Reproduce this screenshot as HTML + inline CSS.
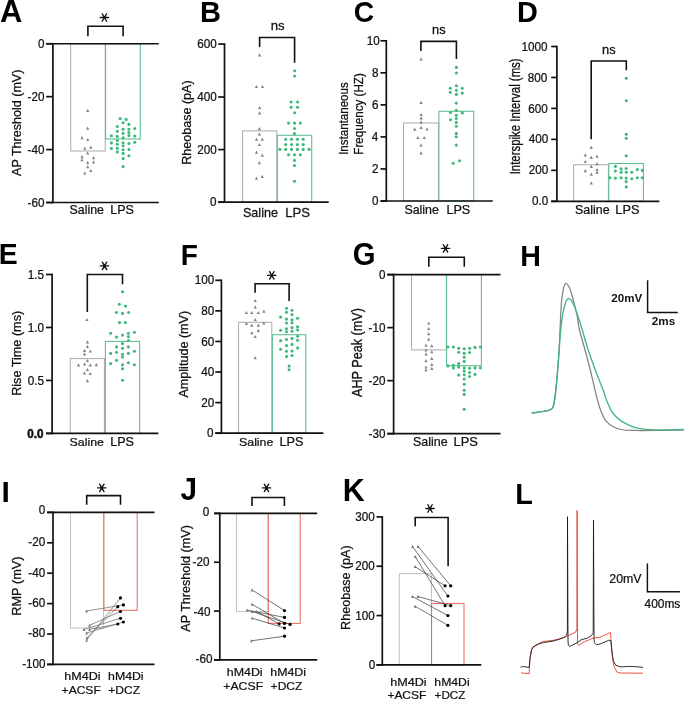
<!DOCTYPE html>
<html><head><meta charset="utf-8"><style>
html,body{margin:0;padding:0;background:#fff;}
body{width:685px;height:702px;overflow:hidden;font-family:"Liberation Sans", sans-serif;}
svg{display:block;}
.w{will-change:transform;}
</style></head><body><div class="w">
<svg width="685" height="702" viewBox="0 0 685 702" font-family='"Liberation Sans", sans-serif'>
<rect width="685" height="702" fill="#fff"/>
<text transform="matrix(0.30909 0 0 0.30735 -0.027 22.407)" font-size="100" font-weight="bold" fill="#000">A</text>
<text transform="matrix(0.29016 0 0 0.29855 199.969 21.900)" font-size="100" font-weight="bold" fill="#000">B</text>
<text transform="matrix(0.28308 0 0 0.30423 353.868 22.196)" font-size="100" font-weight="bold" fill="#000">C</text>
<text transform="matrix(0.28852 0 0 0.30000 517.080 21.900)" font-size="100" font-weight="bold" fill="#000">D</text>
<text transform="matrix(0.28393 0 0 0.30145 -1.288 263.900)" font-size="100" font-weight="bold" fill="#000">E</text>
<text transform="matrix(0.28000 0 0 0.30145 180.740 264.800)" font-size="100" font-weight="bold" fill="#000">F</text>
<text transform="matrix(0.29265 0 0 0.31549 352.829 265.385)" font-size="100" font-weight="bold" fill="#000">G</text>
<text transform="matrix(0.28621 0 0 0.29710 520.297 265.800)" font-size="100" font-weight="bold" fill="#000">H</text>
<text transform="matrix(0.30000 0 0 0.29420 1.600 502.300)" font-size="100" font-weight="bold" fill="#000">I</text>
<text transform="matrix(0.29787 0 0 0.30429 180.404 499.896)" font-size="100" font-weight="bold" fill="#000">J</text>
<text transform="matrix(0.30469 0 0 0.32174 342.667 501.100)" font-size="100" font-weight="bold" fill="#000">K</text>
<text transform="matrix(0.28824 0 0 0.29855 515.282 503.500)" font-size="100" font-weight="bold" fill="#000">L</text>
<rect x="70.7" y="43.75" width="34.5" height="107.25" fill="none" stroke="#ababab" stroke-width="1.0"/>
<rect x="105.6" y="43.75" width="34.7" height="95.25" fill="none" stroke="#5fc090" stroke-width="1.1"/>
<line x1="52.9" y1="42.95" x2="52.9" y2="203.31" stroke="#111" stroke-width="1.7" stroke-linecap="butt"/>
<line x1="46.2" y1="43.75" x2="52.9" y2="43.75" stroke="#111" stroke-width="1.7" stroke-linecap="butt"/>
<text transform="matrix(0.11700 0 0 0.11857 37.916 47.850)" font-size="100" font-weight="normal" fill="#111" stroke="#111" stroke-width="2">0</text>
<line x1="46.2" y1="96.67" x2="52.9" y2="96.67" stroke="#111" stroke-width="1.7" stroke-linecap="butt"/>
<text transform="matrix(0.11700 0 0 0.11857 27.503 100.770)" font-size="100" font-weight="normal" fill="#111" stroke="#111" stroke-width="2">-20</text>
<line x1="46.2" y1="149.59" x2="52.9" y2="149.59" stroke="#111" stroke-width="1.7" stroke-linecap="butt"/>
<text transform="matrix(0.11700 0 0 0.11857 27.503 153.690)" font-size="100" font-weight="normal" fill="#111" stroke="#111" stroke-width="2">-40</text>
<line x1="46.2" y1="202.51" x2="52.9" y2="202.51" stroke="#111" stroke-width="1.7" stroke-linecap="butt"/>
<text transform="matrix(0.11700 0 0 0.11857 27.503 206.610)" font-size="100" font-weight="normal" fill="#111" stroke="#111" stroke-width="2">-60</text>
<line x1="46.2" y1="43.75" x2="158.8" y2="43.75" stroke="#111" stroke-width="1.7" stroke-linecap="butt"/>
<line x1="46.2" y1="202.51" x2="158.8" y2="202.51" stroke="#111" stroke-width="1.7" stroke-linecap="butt"/>
<path d="M87.7 108.7L89.35 111.9L86.05 111.9Z" fill="#858585"/>
<path d="M87.7 126.5L89.35 129.7L86.05 129.7Z" fill="#858585"/>
<path d="M82 136.1L83.65 139.3L80.35 139.3Z" fill="#858585"/>
<path d="M87.7 137.9L89.35 141.1L86.05 141.1Z" fill="#858585"/>
<path d="M84.8 146.5L86.45 149.7L83.15 149.7Z" fill="#858585"/>
<path d="M90.8 145.6L92.45 148.8L89.15 148.8Z" fill="#858585"/>
<path d="M87.7 151.2L89.35 154.4L86.05 154.4Z" fill="#858585"/>
<path d="M82 155L83.65 158.2L80.35 158.2Z" fill="#858585"/>
<path d="M82 158L83.65 161.2L80.35 161.2Z" fill="#858585"/>
<path d="M93.5 156.1L95.15 159.3L91.85 159.3Z" fill="#858585"/>
<path d="M93.5 160.2L95.15 163.4L91.85 163.4Z" fill="#858585"/>
<path d="M87.7 160.7L89.35 163.9L86.05 163.9Z" fill="#858585"/>
<path d="M87.7 165.1L89.35 168.3L86.05 168.3Z" fill="#858585"/>
<path d="M90.8 168.9L92.45 172.1L89.15 172.1Z" fill="#858585"/>
<path d="M84.8 171.4L86.45 174.6L83.15 174.6Z" fill="#858585"/>
<circle cx="120.1" cy="118.6" r="1.55" fill="#3cb878"/>
<circle cx="126.1" cy="119.4" r="1.55" fill="#3cb878"/>
<circle cx="123.1" cy="122.7" r="1.55" fill="#3cb878"/>
<circle cx="128.9" cy="124.4" r="1.55" fill="#3cb878"/>
<circle cx="117.3" cy="126.5" r="1.55" fill="#3cb878"/>
<circle cx="134.8" cy="128.5" r="1.55" fill="#3cb878"/>
<circle cx="123.1" cy="129.2" r="1.55" fill="#3cb878"/>
<circle cx="128.9" cy="129.2" r="1.55" fill="#3cb878"/>
<circle cx="117.3" cy="131.2" r="1.55" fill="#3cb878"/>
<circle cx="128.9" cy="132.5" r="1.55" fill="#3cb878"/>
<circle cx="123.1" cy="133.4" r="1.55" fill="#3cb878"/>
<circle cx="111.4" cy="135.8" r="1.55" fill="#3cb878"/>
<circle cx="117.3" cy="136.4" r="1.55" fill="#3cb878"/>
<circle cx="128.9" cy="135.6" r="1.55" fill="#3cb878"/>
<circle cx="134.8" cy="136.1" r="1.55" fill="#3cb878"/>
<circle cx="123.1" cy="137.8" r="1.55" fill="#3cb878"/>
<circle cx="117.3" cy="140.5" r="1.55" fill="#3cb878"/>
<circle cx="111.4" cy="142.9" r="1.55" fill="#3cb878"/>
<circle cx="123.1" cy="142.7" r="1.55" fill="#3cb878"/>
<circle cx="128.9" cy="143.5" r="1.55" fill="#3cb878"/>
<circle cx="134.8" cy="142.2" r="1.55" fill="#3cb878"/>
<circle cx="117.3" cy="144.3" r="1.55" fill="#3cb878"/>
<circle cx="123.1" cy="145.8" r="1.55" fill="#3cb878"/>
<circle cx="111.4" cy="148.4" r="1.55" fill="#3cb878"/>
<circle cx="117.3" cy="148.4" r="1.55" fill="#3cb878"/>
<circle cx="123.1" cy="149.8" r="1.55" fill="#3cb878"/>
<circle cx="128.9" cy="149.6" r="1.55" fill="#3cb878"/>
<circle cx="117.3" cy="152" r="1.55" fill="#3cb878"/>
<circle cx="123.1" cy="153.4" r="1.55" fill="#3cb878"/>
<circle cx="128.9" cy="155.8" r="1.55" fill="#3cb878"/>
<circle cx="123.1" cy="158.6" r="1.55" fill="#3cb878"/>
<circle cx="123.1" cy="166.6" r="1.55" fill="#3cb878"/>
<path d="M87.9 36.2V26.3H123.1V36.2" stroke="#111" stroke-width="1.6" fill="none" stroke-linejoin="miter"/>
<path d="M100.25 17.5H108.55M102.2 13.75L106.6 21.25M106.6 13.75L102.2 21.25" stroke="#111" stroke-width="1.35" stroke-linecap="round" fill="none"/>
<text transform="matrix(0.12351 0 0 0.12192 69.582 214.000)" font-size="100" font-weight="normal" fill="#111" stroke="#111" stroke-width="2">Saline</text>
<text transform="matrix(0.12500 0 0 0.12286 110.300 214.000)" font-size="100" font-weight="normal" fill="#111" stroke="#111" stroke-width="2">LPS</text>
<text transform="matrix(0 -0.12577 0.13478 0 21.000 175.900)" font-size="100" font-weight="normal" fill="#111" stroke="#111" stroke-width="2">AP Threshold (mV)</text>
<rect x="242.6" y="130.9" width="34.2" height="71.3" fill="none" stroke="#ababab" stroke-width="1.0"/>
<rect x="277.3" y="135.3" width="34.4" height="66.9" fill="none" stroke="#5fc090" stroke-width="1.1"/>
<line x1="224.5" y1="43.25" x2="224.5" y2="203" stroke="#111" stroke-width="1.7" stroke-linecap="butt"/>
<line x1="218.2" y1="44.05" x2="224.5" y2="44.05" stroke="#111" stroke-width="1.7" stroke-linecap="butt"/>
<text transform="matrix(0.11700 0 0 0.11857 197.129 48.150)" font-size="100" font-weight="normal" fill="#111" stroke="#111" stroke-width="2">600</text>
<line x1="218.2" y1="97" x2="224.5" y2="97" stroke="#111" stroke-width="1.7" stroke-linecap="butt"/>
<text transform="matrix(0.11700 0 0 0.11857 197.129 101.100)" font-size="100" font-weight="normal" fill="#111" stroke="#111" stroke-width="2">400</text>
<line x1="218.2" y1="149.6" x2="224.5" y2="149.6" stroke="#111" stroke-width="1.7" stroke-linecap="butt"/>
<text transform="matrix(0.11700 0 0 0.11857 197.129 153.700)" font-size="100" font-weight="normal" fill="#111" stroke="#111" stroke-width="2">200</text>
<line x1="218.2" y1="202.2" x2="224.5" y2="202.2" stroke="#111" stroke-width="1.7" stroke-linecap="butt"/>
<text transform="matrix(0.11700 0 0 0.11857 210.116 206.300)" font-size="100" font-weight="normal" fill="#111" stroke="#111" stroke-width="2">0</text>
<line x1="218.2" y1="202.2" x2="328.7" y2="202.2" stroke="#111" stroke-width="1.7" stroke-linecap="butt"/>
<path d="M259.6 53.3L261.25 56.5L257.95 56.5Z" fill="#858585"/>
<path d="M256.4 84.9L258.05 88.1L254.75 88.1Z" fill="#858585"/>
<path d="M262.5 84.9L264.15 88.1L260.85 88.1Z" fill="#858585"/>
<path d="M259.6 105.9L261.25 109.1L257.95 109.1Z" fill="#858585"/>
<path d="M259.6 111.2L261.25 114.4L257.95 114.4Z" fill="#858585"/>
<path d="M259.4 127L261.05 130.2L257.75 130.2Z" fill="#858585"/>
<path d="M259.4 132.4L261.05 135.6L257.75 135.6Z" fill="#858585"/>
<path d="M256.5 137.5L258.15 140.7L254.85 140.7Z" fill="#858585"/>
<path d="M262.3 137.5L263.95 140.7L260.65 140.7Z" fill="#858585"/>
<path d="M259.4 142.9L261.05 146.1L257.75 146.1Z" fill="#858585"/>
<path d="M256.5 150.6L258.15 153.8L254.85 153.8Z" fill="#858585"/>
<path d="M262.3 153.6L263.95 156.8L260.65 156.8Z" fill="#858585"/>
<path d="M259.4 161.1L261.05 164.3L257.75 164.3Z" fill="#858585"/>
<path d="M256.5 176.6L258.15 179.8L254.85 179.8Z" fill="#858585"/>
<path d="M262.3 174.7L263.95 177.9L260.65 177.9Z" fill="#858585"/>
<circle cx="294.6" cy="70.8" r="1.55" fill="#3cb878"/>
<circle cx="294.6" cy="76" r="1.55" fill="#3cb878"/>
<circle cx="291.1" cy="102" r="1.55" fill="#3cb878"/>
<circle cx="297.6" cy="102" r="1.55" fill="#3cb878"/>
<circle cx="291.1" cy="107.2" r="1.55" fill="#3cb878"/>
<circle cx="297.6" cy="107.2" r="1.55" fill="#3cb878"/>
<circle cx="294.6" cy="112.8" r="1.55" fill="#3cb878"/>
<circle cx="288.6" cy="123.1" r="1.55" fill="#3cb878"/>
<circle cx="294.5" cy="123.1" r="1.55" fill="#3cb878"/>
<circle cx="300.3" cy="123.1" r="1.55" fill="#3cb878"/>
<circle cx="294.5" cy="128.5" r="1.55" fill="#3cb878"/>
<circle cx="294.5" cy="133.6" r="1.55" fill="#3cb878"/>
<circle cx="285.7" cy="139.2" r="1.55" fill="#3cb878"/>
<circle cx="291.5" cy="139.2" r="1.55" fill="#3cb878"/>
<circle cx="297.4" cy="139.2" r="1.55" fill="#3cb878"/>
<circle cx="303.2" cy="139.2" r="1.55" fill="#3cb878"/>
<circle cx="285.7" cy="144.6" r="1.55" fill="#3cb878"/>
<circle cx="291.5" cy="144.6" r="1.55" fill="#3cb878"/>
<circle cx="297.4" cy="144.6" r="1.55" fill="#3cb878"/>
<circle cx="303.2" cy="144.6" r="1.55" fill="#3cb878"/>
<circle cx="279.9" cy="149.4" r="1.55" fill="#3cb878"/>
<circle cx="285.7" cy="149.4" r="1.55" fill="#3cb878"/>
<circle cx="291.5" cy="149.4" r="1.55" fill="#3cb878"/>
<circle cx="297.4" cy="149.4" r="1.55" fill="#3cb878"/>
<circle cx="303.2" cy="149.4" r="1.55" fill="#3cb878"/>
<circle cx="309.1" cy="149.4" r="1.55" fill="#3cb878"/>
<circle cx="288.6" cy="154.8" r="1.55" fill="#3cb878"/>
<circle cx="294.5" cy="154.8" r="1.55" fill="#3cb878"/>
<circle cx="300.3" cy="154.8" r="1.55" fill="#3cb878"/>
<circle cx="294.5" cy="160.4" r="1.55" fill="#3cb878"/>
<circle cx="294.5" cy="165.5" r="1.55" fill="#3cb878"/>
<circle cx="294.5" cy="181.2" r="1.55" fill="#3cb878"/>
<path d="M259.6 46.9V37.5H294.6V62.7" stroke="#111" stroke-width="1.6" fill="none" stroke-linejoin="miter"/>
<text transform="matrix(0.13158 0 0 0.13148 270.679 29.900)" font-size="100" font-weight="normal" fill="#111" stroke="#111" stroke-width="2">ns</text>
<text transform="matrix(0.12612 0 0 0.13014 242.969 216.600)" font-size="100" font-weight="normal" fill="#111" stroke="#111" stroke-width="2">Saline</text>
<text transform="matrix(0.13125 0 0 0.13143 285.150 216.600)" font-size="100" font-weight="normal" fill="#111" stroke="#111" stroke-width="2">LPS</text>
<text transform="matrix(0 -0.12553 0.13623 0 190.500 164.704)" font-size="100" font-weight="normal" fill="#111" stroke="#111" stroke-width="2">Rheobase (pA)</text>
<rect x="403.5" y="123" width="34.9" height="78" fill="none" stroke="#ababab" stroke-width="1.0"/>
<rect x="438.9" y="111.3" width="34.8" height="89.7" fill="none" stroke="#5fc090" stroke-width="1.1"/>
<line x1="386.3" y1="40" x2="386.3" y2="201.8" stroke="#111" stroke-width="1.7" stroke-linecap="butt"/>
<line x1="380.5" y1="40.8" x2="386.3" y2="40.8" stroke="#111" stroke-width="1.7" stroke-linecap="butt"/>
<text transform="matrix(0.11700 0 0 0.11857 366.681 44.900)" font-size="100" font-weight="normal" fill="#111" stroke="#111" stroke-width="2">10</text>
<line x1="380.5" y1="72.84" x2="386.3" y2="72.84" stroke="#111" stroke-width="1.7" stroke-linecap="butt"/>
<text transform="matrix(0.11700 0 0 0.11857 372.033 76.940)" font-size="100" font-weight="normal" fill="#111" stroke="#111" stroke-width="2">8</text>
<line x1="380.5" y1="104.88" x2="386.3" y2="104.88" stroke="#111" stroke-width="1.7" stroke-linecap="butt"/>
<text transform="matrix(0.11700 0 0 0.11857 372.033 108.980)" font-size="100" font-weight="normal" fill="#111" stroke="#111" stroke-width="2">6</text>
<line x1="380.5" y1="136.92" x2="386.3" y2="136.92" stroke="#111" stroke-width="1.7" stroke-linecap="butt"/>
<text transform="matrix(0.11700 0 0 0.11857 371.799 141.020)" font-size="100" font-weight="normal" fill="#111" stroke="#111" stroke-width="2">4</text>
<line x1="380.5" y1="168.96" x2="386.3" y2="168.96" stroke="#111" stroke-width="1.7" stroke-linecap="butt"/>
<text transform="matrix(0.11700 0 0 0.11857 372.033 173.060)" font-size="100" font-weight="normal" fill="#111" stroke="#111" stroke-width="2">2</text>
<line x1="380.5" y1="201" x2="386.3" y2="201" stroke="#111" stroke-width="1.7" stroke-linecap="butt"/>
<text transform="matrix(0.11700 0 0 0.11857 371.916 205.100)" font-size="100" font-weight="normal" fill="#111" stroke="#111" stroke-width="2">0</text>
<line x1="380.5" y1="201" x2="492.8" y2="201" stroke="#111" stroke-width="1.7" stroke-linecap="butt"/>
<path d="M421.1 57.3L422.75 60.5L419.45 60.5Z" fill="#858585"/>
<path d="M421.1 100.7L422.75 103.9L419.45 103.9Z" fill="#858585"/>
<path d="M421.1 112.9L422.75 116.1L419.45 116.1Z" fill="#858585"/>
<path d="M421.1 116.3L422.75 119.5L419.45 119.5Z" fill="#858585"/>
<path d="M421.1 120.2L422.75 123.4L419.45 123.4Z" fill="#858585"/>
<path d="M421.1 125.7L422.75 128.9L419.45 128.9Z" fill="#858585"/>
<path d="M414.8 127.6L416.45 130.8L413.15 130.8Z" fill="#858585"/>
<path d="M427 127.3L428.65 130.5L425.35 130.5Z" fill="#858585"/>
<path d="M417.9 135.9L419.55 139.1L416.25 139.1Z" fill="#858585"/>
<path d="M424.2 135.9L425.85 139.1L422.55 139.1Z" fill="#858585"/>
<path d="M421.1 143.4L422.75 146.6L419.45 146.6Z" fill="#858585"/>
<path d="M421.1 151.3L422.75 154.5L419.45 154.5Z" fill="#858585"/>
<circle cx="456.4" cy="67.4" r="1.55" fill="#3cb878"/>
<circle cx="456.4" cy="73" r="1.55" fill="#3cb878"/>
<circle cx="456.4" cy="85.8" r="1.55" fill="#3cb878"/>
<circle cx="450.3" cy="88.3" r="1.55" fill="#3cb878"/>
<circle cx="462.3" cy="88.3" r="1.55" fill="#3cb878"/>
<circle cx="456.4" cy="90.2" r="1.55" fill="#3cb878"/>
<circle cx="450.3" cy="92.3" r="1.55" fill="#3cb878"/>
<circle cx="462.3" cy="93.1" r="1.55" fill="#3cb878"/>
<circle cx="456.4" cy="94.4" r="1.55" fill="#3cb878"/>
<circle cx="456.3" cy="103.1" r="1.55" fill="#3cb878"/>
<circle cx="456.3" cy="110.2" r="1.55" fill="#3cb878"/>
<circle cx="450.5" cy="112.5" r="1.55" fill="#3cb878"/>
<circle cx="462.3" cy="112.9" r="1.55" fill="#3cb878"/>
<circle cx="456.3" cy="115.2" r="1.55" fill="#3cb878"/>
<circle cx="450.5" cy="119.7" r="1.55" fill="#3cb878"/>
<circle cx="456.3" cy="118.5" r="1.55" fill="#3cb878"/>
<circle cx="456.3" cy="122.4" r="1.55" fill="#3cb878"/>
<circle cx="456.3" cy="126.2" r="1.55" fill="#3cb878"/>
<circle cx="456.3" cy="133.4" r="1.55" fill="#3cb878"/>
<circle cx="456.3" cy="136.8" r="1.55" fill="#3cb878"/>
<circle cx="456.3" cy="145.1" r="1.55" fill="#3cb878"/>
<circle cx="459.5" cy="160.8" r="1.55" fill="#3cb878"/>
<circle cx="453.2" cy="163.2" r="1.55" fill="#3cb878"/>
<path d="M420.9 51V41.4H456.4V59" stroke="#111" stroke-width="1.6" fill="none" stroke-linejoin="miter"/>
<text transform="matrix(0.12842 0 0 0.13519 432.001 33.900)" font-size="100" font-weight="normal" fill="#111" stroke="#111" stroke-width="2">ns</text>
<text transform="matrix(0.12425 0 0 0.12192 404.379 214.000)" font-size="100" font-weight="normal" fill="#111" stroke="#111" stroke-width="2">Saline</text>
<text transform="matrix(0.12614 0 0 0.12286 446.391 214.000)" font-size="100" font-weight="normal" fill="#111" stroke="#111" stroke-width="2">LPS</text>
<text transform="matrix(0 -0.11558 0.13333 0 347.800 154.840)" font-size="100" font-weight="normal" fill="#111" stroke="#111" stroke-width="2">Instantaneous</text>
<text transform="matrix(0 -0.11647 0.13043 0 363.200 154.732)" font-size="100" font-weight="normal" fill="#111" stroke="#111" stroke-width="2">Frequency (HZ)</text>
<rect x="573.6" y="164.8" width="34.8" height="36.5" fill="none" stroke="#ababab" stroke-width="1.0"/>
<rect x="608.8" y="163.5" width="34.6" height="37.8" fill="none" stroke="#5fc090" stroke-width="1.1"/>
<line x1="556.9" y1="45.7" x2="556.9" y2="202.1" stroke="#111" stroke-width="1.7" stroke-linecap="butt"/>
<line x1="551.2" y1="46.5" x2="556.9" y2="46.5" stroke="#111" stroke-width="1.7" stroke-linecap="butt"/>
<text transform="matrix(0.11700 0 0 0.11857 521.394 50.600)" font-size="100" font-weight="normal" fill="#111" stroke="#111" stroke-width="2">1000</text>
<line x1="551.2" y1="77.46" x2="556.9" y2="77.46" stroke="#111" stroke-width="1.7" stroke-linecap="butt"/>
<text transform="matrix(0.11700 0 0 0.11857 527.829 81.560)" font-size="100" font-weight="normal" fill="#111" stroke="#111" stroke-width="2">800</text>
<line x1="551.2" y1="108.42" x2="556.9" y2="108.42" stroke="#111" stroke-width="1.7" stroke-linecap="butt"/>
<text transform="matrix(0.11700 0 0 0.11857 528.329 112.520)" font-size="100" font-weight="normal" fill="#111" stroke="#111" stroke-width="2">600</text>
<line x1="551.2" y1="139.38" x2="556.9" y2="139.38" stroke="#111" stroke-width="1.7" stroke-linecap="butt"/>
<text transform="matrix(0.11700 0 0 0.11857 528.729 143.480)" font-size="100" font-weight="normal" fill="#111" stroke="#111" stroke-width="2">400</text>
<line x1="551.2" y1="170.34" x2="556.9" y2="170.34" stroke="#111" stroke-width="1.7" stroke-linecap="butt"/>
<text transform="matrix(0.11700 0 0 0.11857 528.729 174.440)" font-size="100" font-weight="normal" fill="#111" stroke="#111" stroke-width="2">200</text>
<line x1="551.2" y1="201.3" x2="556.9" y2="201.3" stroke="#111" stroke-width="1.7" stroke-linecap="butt"/>
<text transform="matrix(0.11700 0 0 0.11857 532.005 205.400)" font-size="100" font-weight="normal" fill="#111" stroke="#111" stroke-width="2">0.0</text>
<line x1="551.2" y1="201.3" x2="659.3" y2="201.3" stroke="#111" stroke-width="1.7" stroke-linecap="butt"/>
<path d="M591.3 145.7L592.95 148.9L589.65 148.9Z" fill="#858585"/>
<path d="M585.3 153.3L586.95 156.5L583.65 156.5Z" fill="#858585"/>
<path d="M597 154.5L598.65 157.7L595.35 157.7Z" fill="#858585"/>
<path d="M591.3 155.8L592.95 159L589.65 159Z" fill="#858585"/>
<path d="M585.3 159.9L586.95 163.1L583.65 163.1Z" fill="#858585"/>
<path d="M597 162.1L598.65 165.3L595.35 165.3Z" fill="#858585"/>
<path d="M591.3 164.7L592.95 167.9L589.65 167.9Z" fill="#858585"/>
<path d="M585.3 169.1L586.95 172.3L583.65 172.3Z" fill="#858585"/>
<path d="M597 167.9L598.65 171.1L595.35 171.1Z" fill="#858585"/>
<path d="M597 170.6L598.65 173.8L595.35 173.8Z" fill="#858585"/>
<path d="M591.3 172.6L592.95 175.8L589.65 175.8Z" fill="#858585"/>
<path d="M591.3 181.4L592.95 184.6L589.65 184.6Z" fill="#858585"/>
<circle cx="626.3" cy="78.3" r="1.55" fill="#3cb878"/>
<circle cx="626.3" cy="100.8" r="1.55" fill="#3cb878"/>
<circle cx="626.3" cy="134.2" r="1.55" fill="#3cb878"/>
<circle cx="626.2" cy="138.2" r="1.55" fill="#3cb878"/>
<circle cx="626.2" cy="155.8" r="1.55" fill="#3cb878"/>
<circle cx="615.4" cy="166.4" r="1.55" fill="#3cb878"/>
<circle cx="621.1" cy="168.9" r="1.55" fill="#3cb878"/>
<circle cx="626.2" cy="168.5" r="1.55" fill="#3cb878"/>
<circle cx="637.3" cy="169.6" r="1.55" fill="#3cb878"/>
<circle cx="642.3" cy="170.4" r="1.55" fill="#3cb878"/>
<circle cx="615.4" cy="171.1" r="1.55" fill="#3cb878"/>
<circle cx="621.1" cy="172.3" r="1.55" fill="#3cb878"/>
<circle cx="626.2" cy="172.3" r="1.55" fill="#3cb878"/>
<circle cx="631.8" cy="172.3" r="1.55" fill="#3cb878"/>
<circle cx="609.9" cy="177.7" r="1.55" fill="#3cb878"/>
<circle cx="615.4" cy="178.1" r="1.55" fill="#3cb878"/>
<circle cx="621.1" cy="177.7" r="1.55" fill="#3cb878"/>
<circle cx="626.2" cy="178.1" r="1.55" fill="#3cb878"/>
<circle cx="631.8" cy="178.8" r="1.55" fill="#3cb878"/>
<circle cx="637.3" cy="177.7" r="1.55" fill="#3cb878"/>
<circle cx="642.3" cy="177.7" r="1.55" fill="#3cb878"/>
<circle cx="626.2" cy="181.6" r="1.55" fill="#3cb878"/>
<circle cx="626.2" cy="186.9" r="1.55" fill="#3cb878"/>
<path d="M591.2 139.3V61H626.3V70.2" stroke="#111" stroke-width="1.6" fill="none" stroke-linejoin="miter"/>
<text transform="matrix(0.12842 0 0 0.13333 602.001 53.800)" font-size="100" font-weight="normal" fill="#111" stroke="#111" stroke-width="2">ns</text>
<text transform="matrix(0.12425 0 0 0.12192 575.079 214.000)" font-size="100" font-weight="normal" fill="#111" stroke="#111" stroke-width="2">Saline</text>
<text transform="matrix(0.12841 0 0 0.12286 615.373 214.000)" font-size="100" font-weight="normal" fill="#111" stroke="#111" stroke-width="2">LPS</text>
<text transform="matrix(0 -0.11407 0.14203 0 520.000 174.327)" font-size="100" font-weight="normal" fill="#111" stroke="#111" stroke-width="2">Interspike Interval (ms)</text>
<rect x="70.3" y="358.6" width="34.1" height="74.8" fill="none" stroke="#ababab" stroke-width="1.0"/>
<rect x="105.4" y="341.4" width="34.2" height="92" fill="none" stroke="#5fc090" stroke-width="1.1"/>
<line x1="52.1" y1="273.7" x2="52.1" y2="434.21" stroke="#111" stroke-width="1.7" stroke-linecap="butt"/>
<line x1="46" y1="274.5" x2="52.1" y2="274.5" stroke="#111" stroke-width="1.7" stroke-linecap="butt"/>
<text transform="matrix(0.11700 0 0 0.11857 27.805 278.600)" font-size="100" font-weight="normal" fill="#111" stroke="#111" stroke-width="2">1.5</text>
<line x1="46" y1="327.47" x2="52.1" y2="327.47" stroke="#111" stroke-width="1.7" stroke-linecap="butt"/>
<text transform="matrix(0.11700 0 0 0.11857 27.805 331.570)" font-size="100" font-weight="normal" fill="#111" stroke="#111" stroke-width="2">1.0</text>
<line x1="46" y1="380.44" x2="52.1" y2="380.44" stroke="#111" stroke-width="1.7" stroke-linecap="butt"/>
<text transform="matrix(0.11700 0 0 0.11857 27.805 384.540)" font-size="100" font-weight="normal" fill="#111" stroke="#111" stroke-width="2">0.5</text>
<line x1="46" y1="433.41" x2="52.1" y2="433.41" stroke="#111" stroke-width="1.7" stroke-linecap="butt"/>
<text transform="matrix(0.11700 0 0 0.11857 27.305 437.510)" font-size="100" font-weight="bold" fill="#111" stroke="#111" stroke-width="4">0.0</text>
<line x1="46" y1="433.41" x2="158.3" y2="433.41" stroke="#111" stroke-width="1.7" stroke-linecap="butt"/>
<path d="M86.9 317.9L88.55 321.1L85.25 321.1Z" fill="#858585"/>
<path d="M87.4 340.2L89.05 343.4L85.75 343.4Z" fill="#858585"/>
<path d="M87.4 344.8L89.05 348L85.75 348Z" fill="#858585"/>
<path d="M84.5 348.8L86.15 352L82.85 352Z" fill="#858585"/>
<path d="M90.3 349.4L91.95 352.6L88.65 352.6Z" fill="#858585"/>
<path d="M84.5 352.2L86.15 355.4L82.85 355.4Z" fill="#858585"/>
<path d="M87.4 358.9L89.05 362.1L85.75 362.1Z" fill="#858585"/>
<path d="M78.5 363.3L80.15 366.5L76.85 366.5Z" fill="#858585"/>
<path d="M84.5 362.3L86.15 365.5L82.85 365.5Z" fill="#858585"/>
<path d="M90.3 363.3L91.95 366.5L88.65 366.5Z" fill="#858585"/>
<path d="M96.3 363.1L97.95 366.3L94.65 366.3Z" fill="#858585"/>
<path d="M87.4 367.9L89.05 371.1L85.75 371.1Z" fill="#858585"/>
<path d="M84.5 371.3L86.15 374.5L82.85 374.5Z" fill="#858585"/>
<path d="M90.3 371.9L91.95 375.1L88.65 375.1Z" fill="#858585"/>
<path d="M87.4 379L89.05 382.2L85.75 382.2Z" fill="#858585"/>
<circle cx="122.5" cy="291.7" r="1.55" fill="#3cb878"/>
<circle cx="119.3" cy="304.3" r="1.55" fill="#3cb878"/>
<circle cx="125.5" cy="306.1" r="1.55" fill="#3cb878"/>
<circle cx="116.4" cy="312.5" r="1.55" fill="#3cb878"/>
<circle cx="122.5" cy="313.4" r="1.55" fill="#3cb878"/>
<circle cx="128.6" cy="312.5" r="1.55" fill="#3cb878"/>
<circle cx="119.5" cy="322.6" r="1.55" fill="#3cb878"/>
<circle cx="125.4" cy="322.6" r="1.55" fill="#3cb878"/>
<circle cx="110.6" cy="333.2" r="1.55" fill="#3cb878"/>
<circle cx="134.4" cy="332.3" r="1.55" fill="#3cb878"/>
<circle cx="116.5" cy="337.1" r="1.55" fill="#3cb878"/>
<circle cx="122.5" cy="335.1" r="1.55" fill="#3cb878"/>
<circle cx="128.4" cy="333.3" r="1.55" fill="#3cb878"/>
<circle cx="128.4" cy="336.6" r="1.55" fill="#3cb878"/>
<circle cx="128.4" cy="340.5" r="1.55" fill="#3cb878"/>
<circle cx="122.5" cy="343.6" r="1.55" fill="#3cb878"/>
<circle cx="116.5" cy="346.9" r="1.55" fill="#3cb878"/>
<circle cx="122.5" cy="348.2" r="1.55" fill="#3cb878"/>
<circle cx="128.4" cy="346.9" r="1.55" fill="#3cb878"/>
<circle cx="110.6" cy="353.4" r="1.55" fill="#3cb878"/>
<circle cx="116.5" cy="352.2" r="1.55" fill="#3cb878"/>
<circle cx="122.5" cy="354.2" r="1.55" fill="#3cb878"/>
<circle cx="128.4" cy="353.4" r="1.55" fill="#3cb878"/>
<circle cx="134.4" cy="351.3" r="1.55" fill="#3cb878"/>
<circle cx="122.5" cy="357.1" r="1.55" fill="#3cb878"/>
<circle cx="116.5" cy="360.2" r="1.55" fill="#3cb878"/>
<circle cx="110.6" cy="363.6" r="1.55" fill="#3cb878"/>
<circle cx="122.5" cy="364.8" r="1.55" fill="#3cb878"/>
<circle cx="128.4" cy="362.8" r="1.55" fill="#3cb878"/>
<circle cx="134.4" cy="364.8" r="1.55" fill="#3cb878"/>
<circle cx="122.5" cy="368.8" r="1.55" fill="#3cb878"/>
<circle cx="122.5" cy="380.2" r="1.55" fill="#3cb878"/>
<path d="M87.3 312V274.5H122.5V284.2" stroke="#111" stroke-width="1.6" fill="none" stroke-linejoin="miter"/>
<path d="M100.35 265.9H108.65M102.3 262.15L106.7 269.65M106.7 262.15L102.3 269.65" stroke="#111" stroke-width="1.35" stroke-linecap="round" fill="none"/>
<text transform="matrix(0.12351 0 0 0.11781 69.582 445.600)" font-size="100" font-weight="normal" fill="#111" stroke="#111" stroke-width="2">Saline</text>
<text transform="matrix(0.12614 0 0 0.11857 110.191 445.600)" font-size="100" font-weight="normal" fill="#111" stroke="#111" stroke-width="2">LPS</text>
<text transform="matrix(0 -0.12660 0.12971 0 21.000 395.813)" font-size="100" font-weight="normal" fill="#111" stroke="#111" stroke-width="2">Rise Time (ms)</text>
<rect x="238.6" y="322.3" width="33.2" height="110.8" fill="none" stroke="#ababab" stroke-width="1.0"/>
<rect x="272.4" y="334.7" width="33.4" height="98.4" fill="none" stroke="#5fc090" stroke-width="1.1"/>
<line x1="221.4" y1="279.5" x2="221.4" y2="434" stroke="#111" stroke-width="1.7" stroke-linecap="butt"/>
<line x1="215.3" y1="280.3" x2="221.4" y2="280.3" stroke="#111" stroke-width="1.7" stroke-linecap="butt"/>
<text transform="matrix(0.11700 0 0 0.11857 194.629 284.400)" font-size="100" font-weight="normal" fill="#111" stroke="#111" stroke-width="2">100</text>
<line x1="215.3" y1="310.88" x2="221.4" y2="310.88" stroke="#111" stroke-width="1.7" stroke-linecap="butt"/>
<text transform="matrix(0.11700 0 0 0.11857 201.181 314.980)" font-size="100" font-weight="normal" fill="#111" stroke="#111" stroke-width="2">80</text>
<line x1="215.3" y1="341.46" x2="221.4" y2="341.46" stroke="#111" stroke-width="1.7" stroke-linecap="butt"/>
<text transform="matrix(0.11700 0 0 0.11857 201.181 345.560)" font-size="100" font-weight="normal" fill="#111" stroke="#111" stroke-width="2">60</text>
<line x1="215.3" y1="372.04" x2="221.4" y2="372.04" stroke="#111" stroke-width="1.7" stroke-linecap="butt"/>
<text transform="matrix(0.11700 0 0 0.11857 201.181 376.140)" font-size="100" font-weight="normal" fill="#111" stroke="#111" stroke-width="2">40</text>
<line x1="215.3" y1="402.62" x2="221.4" y2="402.62" stroke="#111" stroke-width="1.7" stroke-linecap="butt"/>
<text transform="matrix(0.11700 0 0 0.11857 201.181 406.720)" font-size="100" font-weight="normal" fill="#111" stroke="#111" stroke-width="2">20</text>
<line x1="215.3" y1="433.2" x2="221.4" y2="433.2" stroke="#111" stroke-width="1.7" stroke-linecap="butt"/>
<text transform="matrix(0.11700 0 0 0.11857 207.116 437.300)" font-size="100" font-weight="normal" fill="#111" stroke="#111" stroke-width="2">0</text>
<line x1="215.3" y1="433.2" x2="323.4" y2="433.2" stroke="#111" stroke-width="1.7" stroke-linecap="butt"/>
<path d="M255.2 298.9L256.85 302.1L253.55 302.1Z" fill="#858585"/>
<path d="M255.2 305.3L256.85 308.5L253.55 308.5Z" fill="#858585"/>
<path d="M246.4 310.9L248.05 314.1L244.75 314.1Z" fill="#858585"/>
<path d="M251.8 310.9L253.45 314.1L250.15 314.1Z" fill="#858585"/>
<path d="M258.3 310.9L259.95 314.1L256.65 314.1Z" fill="#858585"/>
<path d="M263.9 309.6L265.55 312.8L262.25 312.8Z" fill="#858585"/>
<path d="M255.2 317.9L256.85 321.1L253.55 321.1Z" fill="#858585"/>
<path d="M246.4 321.7L248.05 324.9L244.75 324.9Z" fill="#858585"/>
<path d="M263.9 321.4L265.55 324.6L262.25 324.6Z" fill="#858585"/>
<path d="M251.8 323.6L253.45 326.8L250.15 326.8Z" fill="#858585"/>
<path d="M258.3 323.6L259.95 326.8L256.65 326.8Z" fill="#858585"/>
<path d="M258.3 328.7L259.95 331.9L256.65 331.9Z" fill="#858585"/>
<path d="M251.8 331L253.45 334.2L250.15 334.2Z" fill="#858585"/>
<path d="M255.2 334.9L256.85 338.1L253.55 338.1Z" fill="#858585"/>
<path d="M255.2 356.1L256.85 359.3L253.55 359.3Z" fill="#858585"/>
<circle cx="286.5" cy="308.2" r="1.55" fill="#3cb878"/>
<circle cx="286.5" cy="312.2" r="1.55" fill="#3cb878"/>
<circle cx="292" cy="310.3" r="1.55" fill="#3cb878"/>
<circle cx="292" cy="314.6" r="1.55" fill="#3cb878"/>
<circle cx="280.6" cy="317.1" r="1.55" fill="#3cb878"/>
<circle cx="297.6" cy="318.2" r="1.55" fill="#3cb878"/>
<circle cx="286.5" cy="319.1" r="1.55" fill="#3cb878"/>
<circle cx="292" cy="319.7" r="1.55" fill="#3cb878"/>
<circle cx="286.5" cy="323" r="1.55" fill="#3cb878"/>
<circle cx="292" cy="322.8" r="1.55" fill="#3cb878"/>
<circle cx="292" cy="327.6" r="1.55" fill="#3cb878"/>
<circle cx="297.6" cy="326.8" r="1.55" fill="#3cb878"/>
<circle cx="297.6" cy="329.9" r="1.55" fill="#3cb878"/>
<circle cx="280.6" cy="330.2" r="1.55" fill="#3cb878"/>
<circle cx="286.5" cy="328.7" r="1.55" fill="#3cb878"/>
<circle cx="286.5" cy="331.7" r="1.55" fill="#3cb878"/>
<circle cx="292" cy="331.3" r="1.55" fill="#3cb878"/>
<circle cx="297.6" cy="336.2" r="1.55" fill="#3cb878"/>
<circle cx="292" cy="338.4" r="1.55" fill="#3cb878"/>
<circle cx="286.5" cy="339.5" r="1.55" fill="#3cb878"/>
<circle cx="280.6" cy="340.7" r="1.55" fill="#3cb878"/>
<circle cx="297.6" cy="340.2" r="1.55" fill="#3cb878"/>
<circle cx="292" cy="344.4" r="1.55" fill="#3cb878"/>
<circle cx="286.5" cy="345.6" r="1.55" fill="#3cb878"/>
<circle cx="280.6" cy="349.3" r="1.55" fill="#3cb878"/>
<circle cx="297.6" cy="347.9" r="1.55" fill="#3cb878"/>
<circle cx="292" cy="351.1" r="1.55" fill="#3cb878"/>
<circle cx="286.5" cy="351.3" r="1.55" fill="#3cb878"/>
<circle cx="292" cy="355.5" r="1.55" fill="#3cb878"/>
<circle cx="286.5" cy="356.6" r="1.55" fill="#3cb878"/>
<circle cx="289.1" cy="366.1" r="1.55" fill="#3cb878"/>
<circle cx="289.1" cy="369.7" r="1.55" fill="#3cb878"/>
<path d="M255.1 292.8V283.8H289.1V300.9" stroke="#111" stroke-width="1.6" fill="none" stroke-linejoin="miter"/>
<path d="M267.65 275.4H275.95M269.6 271.65L274 279.15M274 271.65L269.6 279.15" stroke="#111" stroke-width="1.35" stroke-linecap="round" fill="none"/>
<text transform="matrix(0.12313 0 0 0.11644 239.084 445.900)" font-size="100" font-weight="normal" fill="#111" stroke="#111" stroke-width="2">Saline</text>
<text transform="matrix(0.12727 0 0 0.11857 279.382 445.900)" font-size="100" font-weight="normal" fill="#111" stroke="#111" stroke-width="2">LPS</text>
<text transform="matrix(0 -0.12606 0.13043 0 188.100 397.600)" font-size="100" font-weight="normal" fill="#111" stroke="#111" stroke-width="2">Amplitude (mV)</text>
<rect x="411.5" y="274.6" width="34.8" height="75.3" fill="none" stroke="#ababab" stroke-width="1.0"/>
<rect x="446.6" y="274.6" width="34.8" height="91.1" fill="none" stroke="#5fc090" stroke-width="1.1"/>
<line x1="393.6" y1="273.8" x2="393.6" y2="434.49" stroke="#111" stroke-width="1.7" stroke-linecap="butt"/>
<line x1="387.3" y1="274.6" x2="393.6" y2="274.6" stroke="#111" stroke-width="1.7" stroke-linecap="butt"/>
<text transform="matrix(0.11700 0 0 0.11857 378.916 278.700)" font-size="100" font-weight="normal" fill="#111" stroke="#111" stroke-width="2">0</text>
<line x1="387.3" y1="327.63" x2="393.6" y2="327.63" stroke="#111" stroke-width="1.7" stroke-linecap="butt"/>
<text transform="matrix(0.11700 0 0 0.11857 368.503 331.730)" font-size="100" font-weight="normal" fill="#111" stroke="#111" stroke-width="2">-10</text>
<line x1="387.3" y1="380.66" x2="393.6" y2="380.66" stroke="#111" stroke-width="1.7" stroke-linecap="butt"/>
<text transform="matrix(0.11700 0 0 0.11857 368.503 384.760)" font-size="100" font-weight="normal" fill="#111" stroke="#111" stroke-width="2">-20</text>
<line x1="387.3" y1="433.69" x2="393.6" y2="433.69" stroke="#111" stroke-width="1.7" stroke-linecap="butt"/>
<text transform="matrix(0.11700 0 0 0.11857 368.503 437.790)" font-size="100" font-weight="normal" fill="#111" stroke="#111" stroke-width="2">-30</text>
<line x1="387.3" y1="274.6" x2="500.5" y2="274.6" stroke="#111" stroke-width="1.7" stroke-linecap="butt"/>
<line x1="387.3" y1="433.69" x2="500.5" y2="433.69" stroke="#111" stroke-width="1.7" stroke-linecap="butt"/>
<path d="M428.7 321.4L430.35 324.6L427.05 324.6Z" fill="#858585"/>
<path d="M428.7 326.9L430.35 330.1L427.05 330.1Z" fill="#858585"/>
<path d="M428.7 332L430.35 335.2L427.05 335.2Z" fill="#858585"/>
<path d="M428.7 337.6L430.35 340.8L427.05 340.8Z" fill="#858585"/>
<path d="M426 343.5L427.65 346.7L424.35 346.7Z" fill="#858585"/>
<path d="M431.8 344L433.45 347.2L430.15 347.2Z" fill="#858585"/>
<path d="M426 348.3L427.65 351.5L424.35 351.5Z" fill="#858585"/>
<path d="M431.8 350L433.45 353.2L430.15 353.2Z" fill="#858585"/>
<path d="M426 352.2L427.65 355.4L424.35 355.4Z" fill="#858585"/>
<path d="M431.8 356.8L433.45 360L430.15 360Z" fill="#858585"/>
<path d="M426 359L427.65 362.2L424.35 362.2Z" fill="#858585"/>
<path d="M431.8 362.8L433.45 366L430.15 366Z" fill="#858585"/>
<path d="M426 365.4L427.65 368.6L424.35 368.6Z" fill="#858585"/>
<path d="M431.8 366.7L433.45 369.9L430.15 369.9Z" fill="#858585"/>
<path d="M426 368.3L427.65 371.5L424.35 371.5Z" fill="#858585"/>
<circle cx="447.9" cy="347" r="1.55" fill="#3cb878"/>
<circle cx="453.4" cy="347" r="1.55" fill="#3cb878"/>
<circle cx="458.7" cy="348.2" r="1.55" fill="#3cb878"/>
<circle cx="464.2" cy="348.7" r="1.55" fill="#3cb878"/>
<circle cx="469.6" cy="348.2" r="1.55" fill="#3cb878"/>
<circle cx="475" cy="347.4" r="1.55" fill="#3cb878"/>
<circle cx="480.4" cy="347" r="1.55" fill="#3cb878"/>
<circle cx="458.7" cy="352.2" r="1.55" fill="#3cb878"/>
<circle cx="464.2" cy="353.4" r="1.55" fill="#3cb878"/>
<circle cx="469.6" cy="352.5" r="1.55" fill="#3cb878"/>
<circle cx="464.2" cy="357.3" r="1.55" fill="#3cb878"/>
<circle cx="464.2" cy="361.4" r="1.55" fill="#3cb878"/>
<circle cx="458.7" cy="363.6" r="1.55" fill="#3cb878"/>
<circle cx="447.9" cy="365.9" r="1.55" fill="#3cb878"/>
<circle cx="453.4" cy="365.3" r="1.55" fill="#3cb878"/>
<circle cx="453.4" cy="367.9" r="1.55" fill="#3cb878"/>
<circle cx="458.7" cy="367.1" r="1.55" fill="#3cb878"/>
<circle cx="464.2" cy="367.9" r="1.55" fill="#3cb878"/>
<circle cx="469.6" cy="368.3" r="1.55" fill="#3cb878"/>
<circle cx="475" cy="367.9" r="1.55" fill="#3cb878"/>
<circle cx="480.4" cy="367.9" r="1.55" fill="#3cb878"/>
<circle cx="464.2" cy="371" r="1.55" fill="#3cb878"/>
<circle cx="469.6" cy="372.5" r="1.55" fill="#3cb878"/>
<circle cx="458.7" cy="375.1" r="1.55" fill="#3cb878"/>
<circle cx="464.2" cy="374.8" r="1.55" fill="#3cb878"/>
<circle cx="469.6" cy="376.5" r="1.55" fill="#3cb878"/>
<circle cx="475" cy="374.4" r="1.55" fill="#3cb878"/>
<circle cx="464.2" cy="379" r="1.55" fill="#3cb878"/>
<circle cx="464.2" cy="384.2" r="1.55" fill="#3cb878"/>
<circle cx="464.2" cy="390.2" r="1.55" fill="#3cb878"/>
<circle cx="464.2" cy="394.4" r="1.55" fill="#3cb878"/>
<circle cx="464.2" cy="409.3" r="1.55" fill="#3cb878"/>
<path d="M428.8 266.8V257.3H464.3V266.8" stroke="#111" stroke-width="1.6" fill="none" stroke-linejoin="miter"/>
<path d="M441.35 248.4H449.65M443.3 244.65L447.7 252.15M447.7 244.65L443.3 252.15" stroke="#111" stroke-width="1.35" stroke-linecap="round" fill="none"/>
<text transform="matrix(0.12425 0 0 0.11918 413.079 446.100)" font-size="100" font-weight="normal" fill="#111" stroke="#111" stroke-width="2">Saline</text>
<text transform="matrix(0.12898 0 0 0.12143 453.568 446.100)" font-size="100" font-weight="normal" fill="#111" stroke="#111" stroke-width="2">LPS</text>
<text transform="matrix(0 -0.12622 0.13913 0 361.900 396.900)" font-size="100" font-weight="normal" fill="#111" stroke="#111" stroke-width="2">AHP Peak (mV)</text>
<path d="M531.6 413.1C533.12 412.87 537.88 412.15 540.7 411.7C543.52 411.25 546.55 411 548.5 410.4C550.45 409.8 551.48 409.27 552.4 408.1C553.32 406.93 553.47 406.02 554 403.4C554.53 400.78 555.08 396.85 555.6 392.4C556.12 387.95 556.58 382.72 557.1 376.7C557.62 370.68 558.23 363.58 558.7 356.3C559.17 349.02 559.5 341.2 559.9 333C560.3 324.8 560.7 313.42 561.1 307.1C561.5 300.78 561.83 298.45 562.3 295.1C562.77 291.75 563.3 288.95 563.9 287C564.5 285.05 565.03 283.4 565.9 283.4C566.77 283.4 568.17 285.32 569.1 287C570.03 288.68 570.57 290.42 571.5 293.5C572.43 296.58 573.77 301.75 574.7 305.5C575.63 309.25 576.3 311.92 577.1 316C577.9 320.08 578.25 324.58 579.5 330C580.75 335.42 582.72 341.5 584.6 348.5C586.48 355.5 588.72 363.63 590.8 372C592.88 380.37 595.45 392.3 597.1 398.7C598.75 405.1 599.2 406.65 600.7 410.4C602.2 414.15 603.83 418.38 606.1 421.2C608.37 424.02 611.37 425.83 614.3 427.3C617.23 428.77 619.42 429.47 623.7 430C627.98 430.53 629.98 430.47 640 430.5C650.02 430.53 676.5 430.25 683.8 430.2" stroke="#848484" stroke-width="1.25" fill="none" stroke-linejoin="miter" />
<path d="M531.6 413.1C533.12 412.87 537.88 412.15 540.7 411.7C543.52 411.25 546.55 411 548.5 410.4C550.45 409.8 551.48 409.27 552.4 408.1C553.32 406.93 553.47 406.02 554 403.4C554.53 400.78 555.08 396.85 555.6 392.4C556.12 387.95 556.58 382.72 557.1 376.7C557.62 370.68 558.17 363.35 558.7 356.3C559.23 349.25 559.9 339.38 560.3 334.4C560.7 329.42 560.77 329.33 561.1 326.4C561.43 323.47 561.77 320.02 562.3 316.8C562.83 313.58 563.63 309.78 564.3 307.1C564.97 304.42 565.57 302.17 566.3 300.7C567.03 299.23 567.83 298.3 568.7 298.3C569.57 298.3 570.5 299.23 571.5 300.7C572.5 302.17 573.63 304.55 574.7 307.1C575.77 309.65 576.63 312.18 577.9 316C579.17 319.82 580.67 324.58 582.3 330C583.93 335.42 585.5 341.75 587.7 348.5C589.9 355.25 592.88 363.45 595.5 370.5C598.12 377.55 601.52 385.73 603.4 390.8C605.28 395.87 605.22 397.18 606.8 400.9C608.38 404.62 610.75 409.93 612.9 413.1C615.05 416.27 616.98 417.87 619.7 419.9C622.42 421.93 625.82 423.83 629.2 425.3C632.58 426.77 635.7 427.95 640 428.7C644.3 429.45 647.7 429.67 655 429.8C662.3 429.93 679 429.55 683.8 429.5" stroke="#40b77e" stroke-width="1.35" fill="none" stroke-linejoin="miter" />
<path d="M647.6 280.2V312.5H677.8" stroke="#111" stroke-width="1.45" fill="none"/>
<text transform="matrix(0.11597 0 0 0.11286 611.352 302.200)" font-size="100" font-weight="bold" fill="#111">20mV</text>
<text transform="matrix(0.11710 0 0 0.10857 651.749 325.000)" font-size="100" font-weight="bold" fill="#111">2ms</text>
<rect x="70.5" y="512.4" width="33.1" height="115.6" fill="none" stroke="#c2c2c2" stroke-width="1.0"/>
<rect x="103.9" y="512.4" width="33.3" height="97.9" fill="none" stroke="#ea6656" stroke-width="1.0"/>
<line x1="53" y1="511.6" x2="53" y2="665.2" stroke="#111" stroke-width="1.7" stroke-linecap="butt"/>
<line x1="47.1" y1="512.4" x2="53" y2="512.4" stroke="#111" stroke-width="1.7" stroke-linecap="butt"/>
<text transform="matrix(0.11700 0 0 0.11857 38.716 514.000)" font-size="100" font-weight="normal" fill="#111" stroke="#111" stroke-width="2">0</text>
<line x1="47.1" y1="542.8" x2="53" y2="542.8" stroke="#111" stroke-width="1.7" stroke-linecap="butt"/>
<text transform="matrix(0.11700 0 0 0.11857 28.303 545.800)" font-size="100" font-weight="normal" fill="#111" stroke="#111" stroke-width="2">-20</text>
<line x1="47.1" y1="573.2" x2="53" y2="573.2" stroke="#111" stroke-width="1.7" stroke-linecap="butt"/>
<text transform="matrix(0.11700 0 0 0.11857 28.303 576.800)" font-size="100" font-weight="normal" fill="#111" stroke="#111" stroke-width="2">-40</text>
<line x1="47.1" y1="603.6" x2="53" y2="603.6" stroke="#111" stroke-width="1.7" stroke-linecap="butt"/>
<text transform="matrix(0.11700 0 0 0.11857 28.303 606.500)" font-size="100" font-weight="normal" fill="#111" stroke="#111" stroke-width="2">-60</text>
<line x1="47.1" y1="634" x2="53" y2="634" stroke="#111" stroke-width="1.7" stroke-linecap="butt"/>
<text transform="matrix(0.11700 0 0 0.11857 28.303 636.500)" font-size="100" font-weight="normal" fill="#111" stroke="#111" stroke-width="2">-80</text>
<line x1="47.1" y1="664.4" x2="53" y2="664.4" stroke="#111" stroke-width="1.7" stroke-linecap="butt"/>
<text transform="matrix(0.11700 0 0 0.11857 22.168 667.700)" font-size="100" font-weight="normal" fill="#111" stroke="#111" stroke-width="2">-100</text>
<line x1="47.1" y1="512.4" x2="154.5" y2="512.4" stroke="#111" stroke-width="1.7" stroke-linecap="butt"/>
<line x1="47.1" y1="664.4" x2="154.5" y2="664.4" stroke="#111" stroke-width="1.7" stroke-linecap="butt"/>
<line x1="86.6" y1="611" x2="123.4" y2="604.9" stroke="#666" stroke-width="0.7" stroke-linecap="butt"/>
<line x1="86.6" y1="640.2" x2="120.5" y2="597.9" stroke="#666" stroke-width="0.7" stroke-linecap="butt"/>
<line x1="87" y1="637.8" x2="117.8" y2="606.7" stroke="#666" stroke-width="0.7" stroke-linecap="butt"/>
<line x1="89.5" y1="625.3" x2="120.5" y2="611.5" stroke="#666" stroke-width="0.7" stroke-linecap="butt"/>
<line x1="84" y1="629.4" x2="120.5" y2="618.3" stroke="#666" stroke-width="0.7" stroke-linecap="butt"/>
<line x1="86.6" y1="633" x2="123.4" y2="622" stroke="#666" stroke-width="0.7" stroke-linecap="butt"/>
<line x1="89.5" y1="629.4" x2="117.8" y2="624" stroke="#666" stroke-width="0.7" stroke-linecap="butt"/>
<path d="M86.6 609.3L87.9 612.5L85.3 612.5Z" fill="#777"/>
<path d="M86.6 638.5L87.9 641.7L85.3 641.7Z" fill="#777"/>
<path d="M87 636.1L88.3 639.3L85.7 639.3Z" fill="#777"/>
<path d="M89.5 623.6L90.8 626.8L88.2 626.8Z" fill="#777"/>
<path d="M84 627.7L85.3 630.9L82.7 630.9Z" fill="#777"/>
<path d="M86.6 631.3L87.9 634.5L85.3 634.5Z" fill="#777"/>
<path d="M89.5 627.7L90.8 630.9L88.2 630.9Z" fill="#777"/>
<circle cx="123.4" cy="604.9" r="1.6" fill="#000"/>
<circle cx="120.5" cy="597.9" r="1.6" fill="#000"/>
<circle cx="117.8" cy="606.7" r="1.6" fill="#000"/>
<circle cx="120.5" cy="611.5" r="1.6" fill="#000"/>
<circle cx="120.5" cy="618.3" r="1.6" fill="#000"/>
<circle cx="123.4" cy="622" r="1.6" fill="#000"/>
<circle cx="117.8" cy="624" r="1.6" fill="#000"/>
<path d="M86.7 504.8V495.6H120.5V504.8" stroke="#111" stroke-width="1.6" fill="none" stroke-linejoin="miter"/>
<path d="M97.65 487.9H105.95M99.6 484.15L104 491.65M104 484.15L99.6 491.65" stroke="#111" stroke-width="1.35" stroke-linecap="round" fill="none"/>
<text transform="matrix(0.12545 0 0 0.11507 64.322 680.000)" font-size="100" font-weight="normal" fill="#111" stroke="#111" stroke-width="2">hM4Di</text>
<text transform="matrix(0.12057 0 0 0.11571 61.597 694.400)" font-size="100" font-weight="normal" fill="#111" stroke="#111" stroke-width="2">+ACSF</text>
<text transform="matrix(0.12327 0 0 0.11507 108.037 680.000)" font-size="100" font-weight="normal" fill="#111" stroke="#111" stroke-width="2">hM4Di</text>
<text transform="matrix(0.12031 0 0 0.11571 108.298 694.400)" font-size="100" font-weight="normal" fill="#111" stroke="#111" stroke-width="2">+DCZ</text>
<text transform="matrix(0 -0.12749 0.13478 0 20.900 615.720)" font-size="100" font-weight="normal" fill="#111" stroke="#111" stroke-width="2">RMP (mV)</text>
<rect x="236.5" y="513.4" width="31.6" height="98.2" fill="none" stroke="#c2c2c2" stroke-width="1.0"/>
<rect x="268.3" y="513.4" width="31.9" height="110" fill="none" stroke="#ea6656" stroke-width="1.0"/>
<line x1="219.8" y1="512.6" x2="219.8" y2="660.69" stroke="#111" stroke-width="1.7" stroke-linecap="butt"/>
<line x1="214" y1="513.4" x2="219.8" y2="513.4" stroke="#111" stroke-width="1.7" stroke-linecap="butt"/>
<text transform="matrix(0.11700 0 0 0.11857 202.816 516.400)" font-size="100" font-weight="normal" fill="#111" stroke="#111" stroke-width="2">0</text>
<line x1="214" y1="562.23" x2="219.8" y2="562.23" stroke="#111" stroke-width="1.7" stroke-linecap="butt"/>
<text transform="matrix(0.11700 0 0 0.11857 192.603 566.030)" font-size="100" font-weight="normal" fill="#111" stroke="#111" stroke-width="2">-20</text>
<line x1="214" y1="611.06" x2="219.8" y2="611.06" stroke="#111" stroke-width="1.7" stroke-linecap="butt"/>
<text transform="matrix(0.11700 0 0 0.11857 193.603 615.760)" font-size="100" font-weight="normal" fill="#111" stroke="#111" stroke-width="2">-40</text>
<line x1="214" y1="659.89" x2="219.8" y2="659.89" stroke="#111" stroke-width="1.7" stroke-linecap="butt"/>
<text transform="matrix(0.11700 0 0 0.11857 195.503 662.790)" font-size="100" font-weight="normal" fill="#111" stroke="#111" stroke-width="2">-60</text>
<line x1="214" y1="513.4" x2="317.2" y2="513.4" stroke="#111" stroke-width="1.7" stroke-linecap="butt"/>
<line x1="214" y1="659.89" x2="317.2" y2="659.89" stroke="#111" stroke-width="1.7" stroke-linecap="butt"/>
<line x1="252" y1="589.9" x2="284.5" y2="610.6" stroke="#383838" stroke-width="0.7" stroke-linecap="butt"/>
<line x1="252" y1="604.2" x2="284.5" y2="623.4" stroke="#383838" stroke-width="0.7" stroke-linecap="butt"/>
<line x1="247.1" y1="610.1" x2="284.5" y2="617.4" stroke="#383838" stroke-width="0.7" stroke-linecap="butt"/>
<line x1="252" y1="611.5" x2="290.1" y2="624.4" stroke="#383838" stroke-width="0.7" stroke-linecap="butt"/>
<line x1="256.5" y1="611.5" x2="279.1" y2="623.8" stroke="#383838" stroke-width="0.7" stroke-linecap="butt"/>
<line x1="252" y1="618.1" x2="284.5" y2="628" stroke="#383838" stroke-width="0.7" stroke-linecap="butt"/>
<line x1="251.3" y1="640.8" x2="284.5" y2="636.2" stroke="#383838" stroke-width="0.7" stroke-linecap="butt"/>
<path d="M252 588.2L253.3 591.4L250.7 591.4Z" fill="#777"/>
<path d="M252 602.5L253.3 605.7L250.7 605.7Z" fill="#777"/>
<path d="M247.1 608.4L248.4 611.6L245.8 611.6Z" fill="#777"/>
<path d="M252 609.8L253.3 613L250.7 613Z" fill="#777"/>
<path d="M256.5 609.8L257.8 613L255.2 613Z" fill="#777"/>
<path d="M252 616.4L253.3 619.6L250.7 619.6Z" fill="#777"/>
<path d="M251.3 639.1L252.6 642.3L250 642.3Z" fill="#777"/>
<circle cx="284.5" cy="610.6" r="1.6" fill="#000"/>
<circle cx="284.5" cy="623.4" r="1.6" fill="#000"/>
<circle cx="284.5" cy="617.4" r="1.6" fill="#000"/>
<circle cx="290.1" cy="624.4" r="1.6" fill="#000"/>
<circle cx="279.1" cy="623.8" r="1.6" fill="#000"/>
<circle cx="284.5" cy="628" r="1.6" fill="#000"/>
<circle cx="284.5" cy="636.2" r="1.6" fill="#000"/>
<path d="M252 506V497.5H284.4V506" stroke="#111" stroke-width="1.6" fill="none" stroke-linejoin="miter"/>
<path d="M262.35 487.9H270.65M264.3 484.15L268.7 491.65M268.7 484.15L264.3 491.65" stroke="#111" stroke-width="1.35" stroke-linecap="round" fill="none"/>
<text transform="matrix(0.12436 0 0 0.11507 226.729 675.800)" font-size="100" font-weight="normal" fill="#111" stroke="#111" stroke-width="2">hM4Di</text>
<text transform="matrix(0.12278 0 0 0.11571 223.286 690.200)" font-size="100" font-weight="normal" fill="#111" stroke="#111" stroke-width="2">+ACSF</text>
<text transform="matrix(0.12327 0 0 0.11507 270.337 675.800)" font-size="100" font-weight="normal" fill="#111" stroke="#111" stroke-width="2">hM4Di</text>
<text transform="matrix(0.12070 0 0 0.11571 270.596 690.200)" font-size="100" font-weight="normal" fill="#111" stroke="#111" stroke-width="2">+DCZ</text>
<text transform="matrix(0 -0.12595 0.13623 0 189.700 631.700)" font-size="100" font-weight="normal" fill="#111" stroke="#111" stroke-width="2">AP Threshold (mV)</text>
<rect x="399.3" y="573.6" width="32.1" height="91.3" fill="none" stroke="#c2c2c2" stroke-width="1.0"/>
<rect x="431.6" y="603.4" width="32.4" height="61.5" fill="none" stroke="#ea6656" stroke-width="1.0"/>
<line x1="382.3" y1="516.1" x2="382.3" y2="665.69" stroke="#111" stroke-width="1.7" stroke-linecap="butt"/>
<line x1="376.5" y1="516.9" x2="382.3" y2="516.9" stroke="#111" stroke-width="1.7" stroke-linecap="butt"/>
<text transform="matrix(0.11700 0 0 0.11857 355.229 521.000)" font-size="100" font-weight="normal" fill="#111" stroke="#111" stroke-width="2">300</text>
<line x1="376.5" y1="566.23" x2="382.3" y2="566.23" stroke="#111" stroke-width="1.7" stroke-linecap="butt"/>
<text transform="matrix(0.11700 0 0 0.11857 355.229 570.330)" font-size="100" font-weight="normal" fill="#111" stroke="#111" stroke-width="2">200</text>
<line x1="376.5" y1="615.56" x2="382.3" y2="615.56" stroke="#111" stroke-width="1.7" stroke-linecap="butt"/>
<text transform="matrix(0.11700 0 0 0.11857 355.229 619.660)" font-size="100" font-weight="normal" fill="#111" stroke="#111" stroke-width="2">100</text>
<line x1="376.5" y1="664.89" x2="382.3" y2="664.89" stroke="#111" stroke-width="1.7" stroke-linecap="butt"/>
<text transform="matrix(0.11700 0 0 0.11857 368.816 668.990)" font-size="100" font-weight="normal" fill="#111" stroke="#111" stroke-width="2">0</text>
<line x1="376.5" y1="664.89" x2="481.3" y2="664.89" stroke="#111" stroke-width="1.7" stroke-linecap="butt"/>
<line x1="418" y1="546.4" x2="450.7" y2="585.8" stroke="#383838" stroke-width="0.7" stroke-linecap="butt"/>
<line x1="412.5" y1="546.4" x2="447.9" y2="596" stroke="#383838" stroke-width="0.7" stroke-linecap="butt"/>
<line x1="415.2" y1="556.4" x2="445.1" y2="605.7" stroke="#383838" stroke-width="0.7" stroke-linecap="butt"/>
<line x1="415" y1="566.6" x2="445.1" y2="585.8" stroke="#383838" stroke-width="0.7" stroke-linecap="butt"/>
<line x1="412.4" y1="596.5" x2="447.9" y2="615.6" stroke="#383838" stroke-width="0.7" stroke-linecap="butt"/>
<line x1="417.9" y1="596.5" x2="450.7" y2="605.7" stroke="#383838" stroke-width="0.7" stroke-linecap="butt"/>
<line x1="415" y1="606.2" x2="447.9" y2="625.4" stroke="#383838" stroke-width="0.7" stroke-linecap="butt"/>
<path d="M418 544.7L419.3 547.9L416.7 547.9Z" fill="#777"/>
<path d="M412.5 544.7L413.8 547.9L411.2 547.9Z" fill="#777"/>
<path d="M415.2 554.7L416.5 557.9L413.9 557.9Z" fill="#777"/>
<path d="M415 564.9L416.3 568.1L413.7 568.1Z" fill="#777"/>
<path d="M412.4 594.8L413.7 598L411.1 598Z" fill="#777"/>
<path d="M417.9 594.8L419.2 598L416.6 598Z" fill="#777"/>
<path d="M415 604.5L416.3 607.7L413.7 607.7Z" fill="#777"/>
<circle cx="450.7" cy="585.8" r="1.6" fill="#000"/>
<circle cx="447.9" cy="596" r="1.6" fill="#000"/>
<circle cx="445.1" cy="605.7" r="1.6" fill="#000"/>
<circle cx="445.1" cy="585.8" r="1.6" fill="#000"/>
<circle cx="447.9" cy="615.6" r="1.6" fill="#000"/>
<circle cx="450.7" cy="605.7" r="1.6" fill="#000"/>
<circle cx="447.9" cy="625.4" r="1.6" fill="#000"/>
<path d="M415.2 526.3V517.5H448.1V566.2" stroke="#111" stroke-width="1.6" fill="none" stroke-linejoin="miter"/>
<path d="M425.85 508.5H434.15M427.8 504.75L432.2 512.25M432.2 504.75L427.8 512.25" stroke="#111" stroke-width="1.35" stroke-linecap="round" fill="none"/>
<text transform="matrix(0.12618 0 0 0.11507 390.217 686.100)" font-size="100" font-weight="normal" fill="#111" stroke="#111" stroke-width="2">hM4Di</text>
<text transform="matrix(0.11962 0 0 0.11571 387.402 699.300)" font-size="100" font-weight="normal" fill="#111" stroke="#111" stroke-width="2">+ACSF</text>
<text transform="matrix(0.12218 0 0 0.11507 434.345 686.100)" font-size="100" font-weight="normal" fill="#111" stroke="#111" stroke-width="2">hM4Di</text>
<text transform="matrix(0.11641 0 0 0.11571 434.618 699.300)" font-size="100" font-weight="normal" fill="#111" stroke="#111" stroke-width="2">+DCZ</text>
<text transform="matrix(0 -0.12584 0.13333 0 350.200 629.907)" font-size="100" font-weight="normal" fill="#111" stroke="#111" stroke-width="2">Rheobase (pA)</text>
<path d="M520.9 672.9L529.2 673.6L529.4 667.7L530 658.2L531.6 649.7L533 646.8L542.5 641.6L553 640.4L559.6 638.8L567.2 636.2L575.7 632.1L576.9 628.8L577.1 510.5L577.5 640L577.6 644L579.1 645.4L583.2 642.4L590.3 639.3L594.4 637.8L599.5 637.5L605.7 634.7L610.6 632.4L611 639.3L612.3 655.7L613.8 665.9L616.9 672L620 673L643 673.2" stroke="#e8412c" stroke-width="0.9" fill="none" stroke-linejoin="miter" stroke-linejoin="round"/>
<path d="M520.5 667.2L523.5 666.5L529.2 667.5L529.6 663L530 658.2L531.6 649.7L534 646.3L538.7 644L543.5 642.6L553 641.1L559.6 639.2L564.3 637.3L566.7 635L567.4 631.6L567.5 516.7L568 640L568.3 644.9L569.6 646.6L571.9 645.4L577.6 642.4L581.1 639.8L587.3 638.1L591.4 635.7L593.2 633.2L593.5 520.2L594 638L594.4 642.4L596.5 644.9L601.6 643.4L608.7 640.3L610.8 640.5L611.8 650.5L613.3 660.8L615.9 665.4L621 666.9L628.1 666.4L636.3 666.7L643 667.4" stroke="#1a1a1a" stroke-width="0.9" fill="none" stroke-linejoin="miter" stroke-linejoin="round"/>
<path d="M647.4 563.6V591.8H679.9" stroke="#111" stroke-width="1.45" fill="none"/>
<text transform="matrix(0.12383 0 0 0.12143 609.281 583.000)" font-size="100" font-weight="normal" fill="#111" stroke="#111" stroke-width="2">20mV</text>
<text transform="matrix(0.11932 0 0 0.12143 644.561 607.700)" font-size="100" font-weight="normal" fill="#111" stroke="#111" stroke-width="2">400ms</text>
</svg>
</div></body></html>
